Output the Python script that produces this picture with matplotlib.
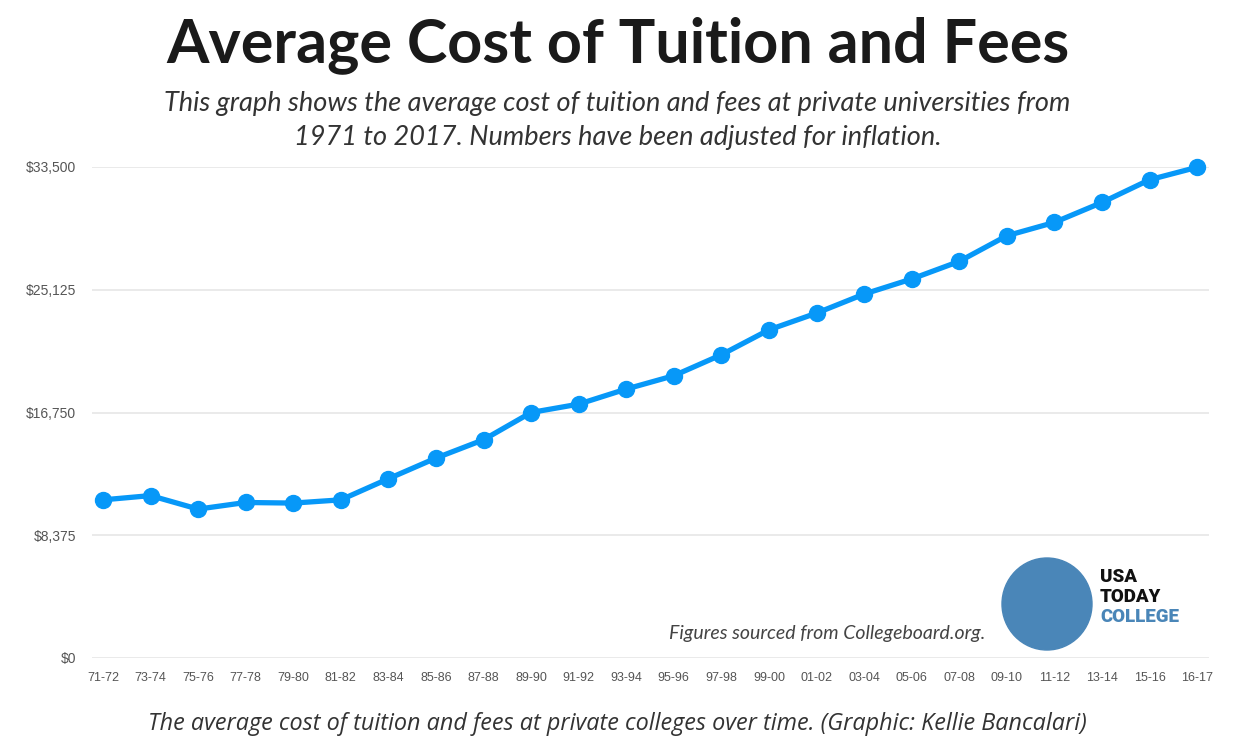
import matplotlib.pyplot as plt
from matplotlib.patches import Ellipse

# school years and average tuition + fees (inflation adjusted, $)
years = ['71-72', '73-74', '75-76', '77-78', '79-80', '81-82', '83-84', '85-86',
         '87-88', '89-90', '91-92', '93-94', '95-96', '97-98', '99-00', '01-02',
         '03-04', '05-06', '07-08', '09-10', '11-12', '13-14', '15-16', '16-17']
cost = [10790, 11080, 10160, 10610, 10570, 10790, 12230, 13640,
        14890, 16750, 17320, 18350, 19260, 20690, 22390, 23530,
        24830, 25860, 27060, 28810, 29720, 31080, 32630, 33480]
yticks = [0, 8375, 16750, 25125, 33500]
ytick_labels = ['$0', '$8,375', '$16,750', '$25,125', '$33,500']

W, H = 1235, 740
fig = plt.figure(figsize=(W / 100, H / 100), dpi=100)
fig.patch.set_facecolor('white')

ax = fig.add_axes([92 / W, 1 - 658 / H, (1209 - 92) / W, (658 - 167) / H])
x = list(range(len(years)))
ax.plot(x, cost, color='#0798f8', lw=3.8, marker='o', markersize=11.5,
        clip_on=False, zorder=3, solid_capstyle='round')
ax.set_xlim(-0.23, len(years) - 1 + 0.25)
ax.set_ylim(0, 33500)
ax.set_yticks(yticks)
ax.set_yticklabels(ytick_labels)
ax.set_xticks(x)
ax.set_xticklabels(years)
for s in ax.spines.values():
    s.set_visible(False)
ax.grid(axis='y', color='#e6e6e6', lw=1.2)
ax.set_axisbelow(True)
ax.tick_params(length=0, labelcolor='#555555')
ax.tick_params(axis='x', labelsize=9, pad=10)
ax.tick_params(axis='y', labelsize=10, pad=11.5)
for lab in ax.get_xticklabels() + ax.get_yticklabels():
    lab.set_family('Liberation Sans')

# titles
fig.text(0.5, 1 - 45 / H, 'Average Cost of Tuition and Fees', ha='center', va='center',
         fontsize=44, fontweight='bold', color='#1a1a1a', family='Lato')
fig.text(0.5, 1 - 103 / H, 'This graph shows the average cost of tuition and fees at private universities from',
         ha='center', va='center', fontsize=19.5, style='italic', color='#333333', family='Lato')
fig.text(0.5, 1 - 137 / H, '1971 to 2017. Numbers have been adjusted for inflation.',
         ha='center', va='center', fontsize=19.5, style='italic', color='#333333', family='Lato')

# source + logo
fig.text(985 / W, 1 - 634 / H, 'Figures sourced from Collegeboard.org.', ha='right', va='center',
         fontsize=14, style='italic', color='#444444', family='Lato')
logo = Ellipse((1047 / W, 1 - 604 / H), 90 / W, 92 / H, transform=fig.transFigure,
               color='#4a86b8', zorder=5)
fig.patches.append(logo)
fig.text(1100 / W, 1 - 577 / H, 'USA', ha='left', va='center', fontsize=13.5,
         fontweight='heavy', color='#111111', family='Roboto')
fig.text(1100 / W, 1 - 597 / H, 'TODAY', ha='left', va='center', fontsize=13.5,
         fontweight='heavy', color='#111111', family='Roboto')
fig.text(1100 / W, 1 - 617 / H, 'COLLEGE', ha='left', va='center', fontsize=13.5,
         fontweight='heavy', color='#4a86b8', family='Roboto')

# caption
fig.text(0.5, 1 - 724 / H, 'The average cost of tuition and fees at private colleges over time. (Graphic: Kellie Bancalari)',
         ha='center', va='center', fontsize=16.8, style='italic', color='#333333', family='Open Sans')

fig.savefig('out.png', dpi=100)
